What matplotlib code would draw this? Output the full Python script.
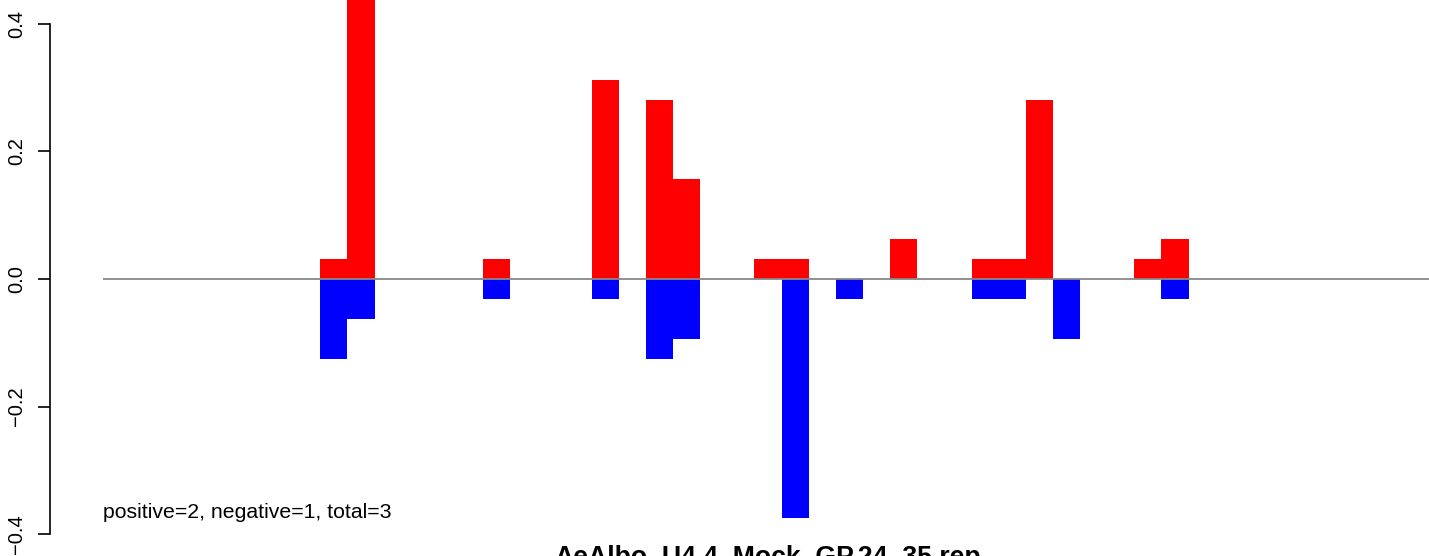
import numpy as np
import matplotlib
matplotlib.use("Agg")
import matplotlib.pyplot as plt

plt.rcParams['font.family'] = ['Liberation Sans', 'DejaVu Sans']

# bar counts per window, scaled (1/32 units)
n_bars = 49
bar_idx = [8, 9, 14, 18, 20, 21, 24, 25, 27, 29, 32, 33, 34, 35, 38, 39]
pos_vals = [1/32, 16/32, 1/32, 10/32, 9/32, 5/32, 1/32, 1/32, 0, 2/32,
            1/32, 1/32, 9/32, 0, 1/32, 2/32]
neg_vals = [-4/32, -2/32, -1/32, -1/32, -4/32, -3/32, 0, -12/32, -1/32, 0,
            -1/32, -1/32, 0, -3/32, 0, -1/32]
yticks = [-0.4, -0.2, 0.0, 0.2, 0.4]
title = "AeAlbo_U4.4_Mock_GP.24_35.rep"
note = "positive=2, negative=1, total=3"

W, H = 1429, 556
fig = plt.figure(figsize=(W / 100, H / 100), dpi=100)

# plot region in pixels (R style, extends past the right edge)
left_px, right_px = 50, 1486
top_px, bot_px = 0, 554.6
ylim = (-0.432, 0.4373)
ax = fig.add_axes([left_px / W, (H - bot_px) / H,
                   (right_px - left_px) / W, (bot_px - top_px) / H])
ax.set_xlim(-0.04 * n_bars, n_bars * 1.04)
ax.set_ylim(*ylim)

x = np.array(bar_idx)
ax.bar(x, pos_vals, width=1.0, align='edge', color='red', linewidth=0, zorder=2)
ax.bar(x, neg_vals, width=1.0, align='edge', color='blue', linewidth=0, zorder=2)
ax.hlines(0, 0, n_bars, color='#888888', linewidth=1.3, zorder=3)

for s in ['top', 'right', 'bottom']:
    ax.spines[s].set_visible(False)
ax.spines['left'].set_bounds(-0.4, 0.4)
ax.spines['left'].set_linewidth(1.2)
ax.set_xticks([])
ax.set_yticks(yticks)
ax.set_yticklabels([("%.1f" % v).replace("-", "\u2212") if v != 0 else "0.0" for v in yticks],
                   rotation=90, va='center', fontsize=14.5)
ax.tick_params(axis='y', length=9, width=1.2, pad=8)

ax.text(0, -0.3746, note, fontsize=15.3, ha='left', va='baseline')
fig.text((left_px + right_px) / 2 / W, (H - 565) / H, title,
         fontsize=19.2, fontweight='bold', ha='center', va='baseline')

fig.savefig("out.png", dpi=100)
